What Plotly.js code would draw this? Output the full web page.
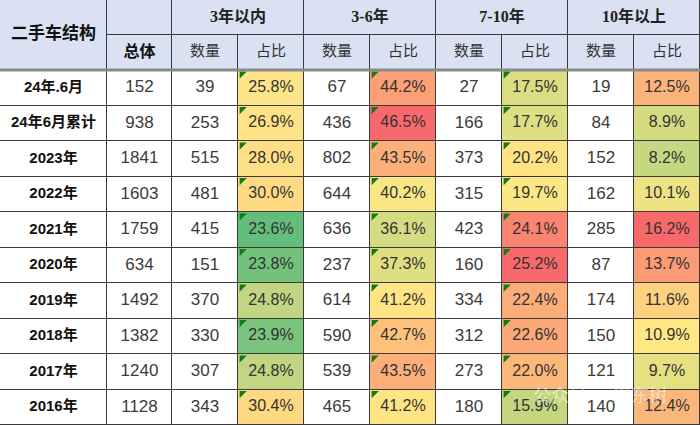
<!DOCTYPE html>
<html>
<head>
<meta charset="utf-8">
<script src="https://cdn.plot.ly/plotly-3.0.1.min.js"></script>
<style>
  html, body { margin: 0; padding: 0; background: #fff; }
  #chart { width: 700px; height: 425px; }
</style>
</head>
<body>
<div id="chart"></div>
<script>
// table data
var rowLabels = ["24年.6月", "24年6月累计", "2023年", "2022年", "2021年", "2020年", "2019年", "2018年", "2017年", "2016年"];
var total = [152, 938, 1841, 1603, 1759, 634, 1492, 1382, 1240, 1128];
var cnt3 = [39, 253, 515, 481, 415, 151, 370, 330, 307, 343];
var pct3 = [25.8, 26.9, 28.0, 30.0, 23.6, 23.8, 24.8, 23.9, 24.8, 30.4];
var cnt36 = [67, 436, 802, 644, 636, 237, 614, 590, 539, 465];
var pct36 = [44.2, 46.5, 43.5, 40.2, 36.1, 37.3, 41.2, 42.7, 43.5, 41.2];
var cnt710 = [27, 166, 373, 315, 423, 160, 334, 312, 273, 180];
var pct710 = [17.5, 17.7, 20.2, 19.7, 24.1, 25.2, 22.4, 22.6, 22.0, 15.9];
var cnt10 = [19, 84, 152, 162, 285, 87, 174, 150, 121, 140];
var pct10 = [12.5, 8.9, 8.2, 10.1, 16.2, 13.7, 11.6, 10.9, 9.7, 12.4];
var title = "二手车结构";
var totalHead = "总体";
var groups = ["3年以内", "3-6年", "7-10年", "10年以上"];
var subHeads = ["数量", "占比"];

// layout of the grid (pixel units on both axes)
var colEdges = [0, 107, 172, 238, 304, 370, 436, 502, 568, 634, 700];
var rowEdges = [];
for (var i = 0; i <= rowLabels.length; i++) rowEdges.push(70 + i * 35.5);

// colour scales per share column: [value, colour] stops
var scale3 = [[23.6, "#63BE7B"], [25.6, "#FFE589"], [30.4, "#FFD981"]];
var scale36 = [[36.1, "#D4DB81"], [41.0, "#FFE984"], [46.5, "#F8696B"]];
var scale710 = [[15.9, "#C4D680"], [20.0, "#FFE884"], [25.2, "#F8696B"]];
var scale10 = [[8.2, "#C5D780"], [10.9, "#FFE884"], [12.5, "#FBB37A"], [16.2, "#F8696B"]];

var border = "#3a3a3a";
var headFill = "#D9E1F2";

function mid(a, k) { return (a[k] + a[k + 1]) / 2; }
var rowMid = rowLabels.map(function (d, i) { return mid(rowEdges, i); });

function block(x, y, z, colorscale, zmin, zmax) {
    return {
        type: "heatmap", x: x, y: y, z: z,
        colorscale: colorscale, zmin: zmin, zmax: zmax,
        showscale: false, xgap: 1, ygap: 1, hoverinfo: "skip"
    };
}
function flat(c) { return [[0, c], [1, c]]; }

function shareBlock(col, vals, stops) {
    var lo = stops[0][0], hi = stops[stops.length - 1][0];
    var cs = stops.map(function (s) { return [(s[0] - lo) / (hi - lo), s[1]]; });
    return block([colEdges[col], colEdges[col + 1]], rowEdges,
        vals.map(function (v) { return [v]; }), cs, lo, hi);
}

function textCol(col, vals, font) {
    return {
        type: "scatter", mode: "text",
        x: vals.map(function () { return mid(colEdges, col); }),
        y: rowMid,
        text: vals, textfont: font,
        textposition: "middle center", hoverinfo: "skip", cliponaxis: false
    };
}

var numFont = { family: "Liberation Sans, Arial, sans-serif", size: 17, color: "#3b3b3b" };
var pctFont = { family: "Liberation Sans, Arial, sans-serif", size: 16, color: "#333" };
var headSerif = { family: "Liberation Serif, Noto Sans CJK SC, serif", size: 16, color: "#222", weight: "bold" };
var subFont = { family: "Noto Sans CJK SC, sans-serif", size: 15, color: "#333" };
var labelFont = { family: "Liberation Sans, Noto Sans CJK SC, sans-serif", size: 15, color: "#111", weight: "bold" };
function pctText(a) { return a.map(function (v) { return v.toFixed(1) + "%"; }); }

var bodyZ = rowLabels.map(function () { return colEdges.slice(1).map(function () { return 0; }); });

var traces = [
    // header cells
    block([0, 107], [0, 70], [[0]], flat(headFill), 0, 1),
    block([107, 172].concat(colEdges.filter(function (e, k) { return k >= 4 && k % 2 === 0; })), [0, 35],
        [[0, 0, 0, 0, 0]], flat(headFill), 0, 1),
    block(colEdges.slice(1), [35, 70], [colEdges.slice(2).map(function () { return 0; })], flat(headFill), 0, 1),
    // body cells
    block(colEdges, rowEdges, bodyZ, flat("#ffffff"), 0, 1),
    shareBlock(3, pct3, scale3),
    shareBlock(5, pct36, scale36),
    shareBlock(7, pct710, scale710),
    shareBlock(9, pct10, scale10)
];

// header text
traces.push({
    type: "scatter", mode: "text", x: [53.5], y: [35], text: [title],
    textfont: { family: "Noto Sans CJK SC, sans-serif", size: 17, color: "#111", weight: "bold" },
    hoverinfo: "skip"
});
traces.push({
    type: "scatter", mode: "text", x: [mid(colEdges, 1)], y: [52.5], text: [totalHead],
    textfont: { family: "Noto Sans CJK SC, sans-serif", size: 16, color: "#111", weight: "bold" },
    hoverinfo: "skip"
});
traces.push({
    type: "scatter", mode: "text",
    x: groups.map(function (g, k) { return colEdges[2 + 2 * k + 1]; }),
    y: groups.map(function () { return 17.5; }),
    text: groups, textfont: headSerif, hoverinfo: "skip"
});
var subX = [], subY = [], subT = [];
groups.forEach(function (g, k) {
    subHeads.forEach(function (s, j) {
        subX.push(mid(colEdges, 2 + 2 * k + j)); subY.push(52.5); subT.push(s);
    });
});
traces.push({ type: "scatter", mode: "text", x: subX, y: subY, text: subT, textfont: subFont, hoverinfo: "skip" });

// body text
traces.push(textCol(0, rowLabels, labelFont));
traces.push(textCol(1, total, numFont));
traces.push(textCol(2, cnt3, numFont));
traces.push(textCol(3, pctText(pct3), pctFont));
traces.push(textCol(4, cnt36, numFont));
traces.push(textCol(5, pctText(pct36), pctFont));
traces.push(textCol(6, cnt710, numFont));
traces.push(textCol(7, pctText(pct710), pctFont));
traces.push(textCol(8, cnt10, numFont));
traces.push(textCol(9, pctText(pct10), pctFont));

// little green corner marks on the first three share columns
var triX = [], triY = [];
[3, 5, 7].forEach(function (c) {
    rowLabels.forEach(function (d, i) { triX.push(colEdges[c] + 4); triY.push(rowEdges[i] + 4); });
});
traces.push({
    type: "scatter", mode: "markers", x: triX, y: triY,
    marker: { symbol: "triangle-nw", size: 8, color: "#137a1a", line: { width: 0 } },
    hoverinfo: "skip"
});

var layout = {
    width: 700, height: 425,
    margin: { l: 0, r: 0, t: 0, b: 0 },
    paper_bgcolor: "#ffffff",
    plot_bgcolor: border,
    showlegend: false,
    xaxis: { range: [0, 700], visible: false, fixedrange: true },
    yaxis: { range: [425, 0], visible: false, fixedrange: true },
    shapes: [
        { type: "line", x0: 0, x1: 700, y0: 70, y1: 70, line: { color: "#8a8a8a", width: 3 } }
    ],
    annotations: [
        {
            x: 600, y: 394, text: "公众号 · 崔东树", showarrow: false,
            font: { family: "Noto Sans CJK SC, sans-serif", size: 18, color: "rgba(255,255,255,0.55)" }
        }
    ]
};

Plotly.newPlot("chart", traces, layout, { displayModeBar: false, staticPlot: true });
</script>
</body>
</html>
